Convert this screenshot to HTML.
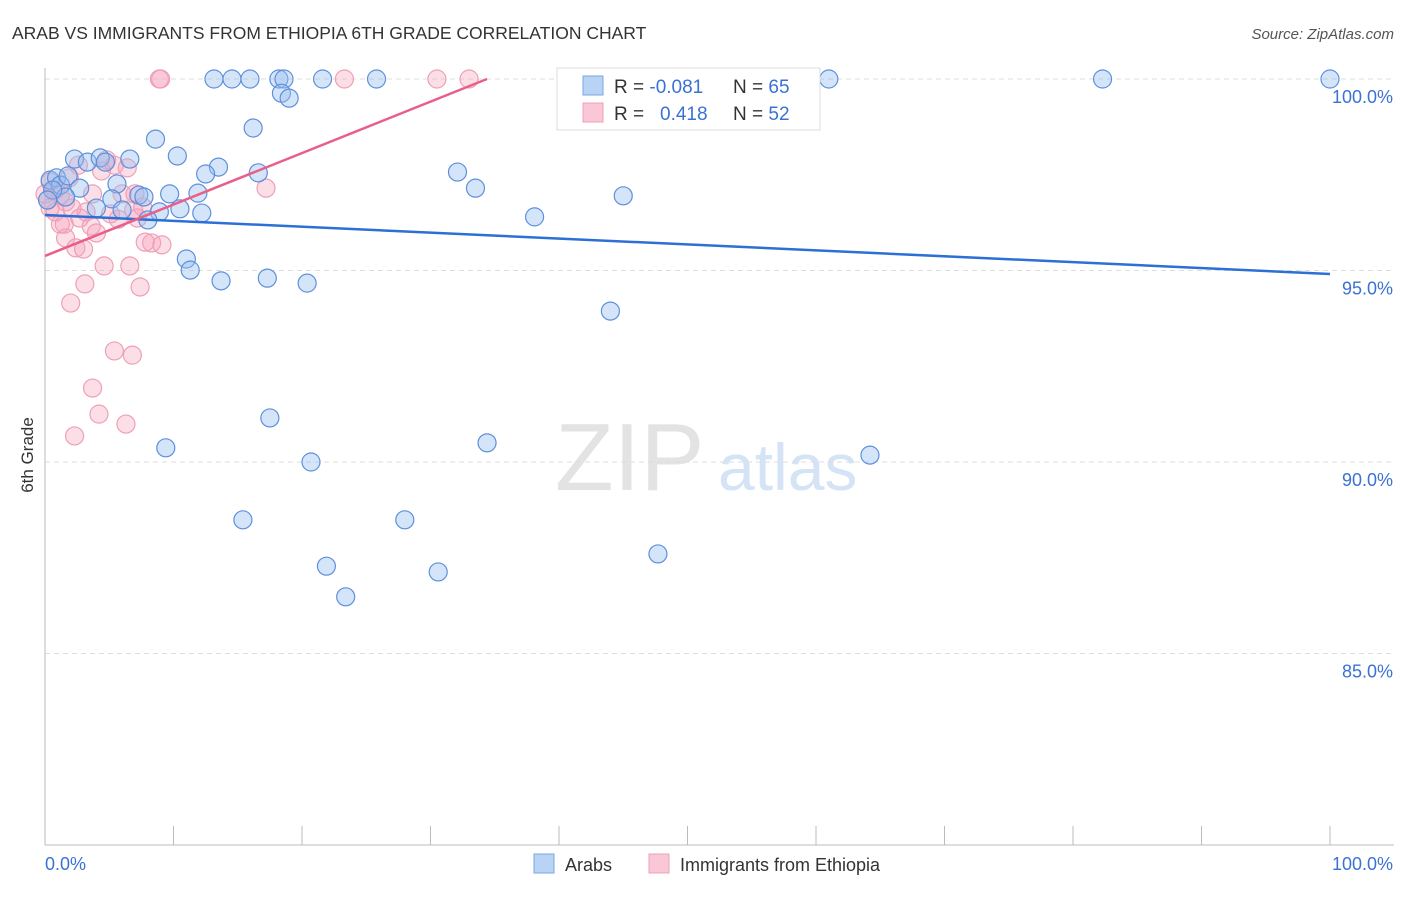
<!DOCTYPE html>
<html><head><meta charset="utf-8"><style>
body{margin:0;background:#fff;font-family:"Liberation Sans",sans-serif}
svg text{font-family:"Liberation Sans",sans-serif}
</style></head><body>
<svg id="chart" width="1406" height="892" viewBox="0 0 1406 892" xmlns="http://www.w3.org/2000/svg">
<text x="12" y="39" font-size="17.5" fill="#333">ARAB VS IMMIGRANTS FROM ETHIOPIA 6TH GRADE CORRELATION CHART</text>
<text x="1394" y="39" font-size="15" font-style="italic" fill="#555" text-anchor="end">Source: ZipAtlas.com</text>
<text transform="translate(33,455) rotate(-90)" font-size="17" fill="#333" text-anchor="middle">6th Grade</text>
<g>
<text x="555" y="490" font-size="96" font-family="Liberation Serif" fill="#e3e3e3">ZIP</text>
<text x="718" y="490" font-size="66" fill="#d4e3f5">atlas</text>
</g>
<g id="grid"></g>
<g id="axes"></g>
<g id="pts"></g>
<g id="trends"></g>
<g>
<rect x="557" y="68" width="263" height="62" fill="#fff" stroke="#ddd"/>
<rect x="583" y="76" width="20" height="19" fill="#b9d3f5" stroke="#7aa5e5"/>
<rect x="583" y="103" width="20" height="19" fill="#f9c7d6" stroke="#f0a0b8"/>
<text x="614" y="93" font-size="19" fill="#333">R = <tspan fill="#3a72d4">-0.081</tspan></text>
<text x="733" y="93" font-size="19" fill="#333">N = <tspan fill="#3a72d4">65</tspan></text>
<text x="614" y="120" font-size="19" fill="#333">R = <tspan fill="#3a72d4" x="660">0.418</tspan></text>
<text x="733" y="120" font-size="19" fill="#333">N = <tspan fill="#3a72d4">52</tspan></text>
</g>
<g>
<rect x="534" y="854" width="20" height="19" fill="#b9d3f5" stroke="#7aa5e5"/>
<text x="565" y="871" font-size="18" fill="#333">Arabs</text>
<rect x="649" y="854" width="20" height="19" fill="#f9c7d6" stroke="#f0a0b8"/>
<text x="680" y="871" font-size="18" fill="#333">Immigrants from Ethiopia</text>
</g>
</svg>
<script>
const yTicks=[100,95,90,85];
const yTickLabels=["100.0%","95.0%","90.0%","85.0%"];
const xTickCount=10;
const blueX=[13.15,14.55,15.95,18.2,18.6,21.6,25.8,47.1,61.0,82.3,100,18.4,19.0,16.2,8.6,10.3,2.3,3.3,4.3,4.7,6.6,13.5,12.5,16.6,32.1,33.5,45.0,0.4,0.9,1.2,1.8,2.7,5.6,5.2,7.3,7.7,9.7,11.9,1.6,4.0,6.0,8.9,10.5,12.2,8.0,38.1,11.0,11.3,13.7,17.3,20.4,44.0,17.5,9.4,34.4,20.7,64.2,15.4,28.0,21.9,30.6,23.4,47.7,0.6,0.2];
const blueY=[100,100,100,100,100,100,100,100,100,100,100,99.63,99.5,98.72,98.43,97.99,97.91,97.83,97.94,97.83,97.91,97.70,97.52,97.55,97.57,97.15,96.95,97.36,97.42,97.23,97.47,97.15,97.26,96.87,96.97,96.92,97.0,97.02,96.92,96.63,96.58,96.53,96.61,96.50,96.32,96.40,95.30,95.01,94.73,94.80,94.67,93.94,91.15,90.37,90.50,90.0,90.18,88.49,88.49,87.28,87.13,86.48,87.60,97.10,96.84];
const pinkX=[8.9,9.0,23.3,30.5,33.0,17.2,2.6,4.8,5.4,6.4,4.4,1.9,0.4,0.8,1.2,0.2,1.6,3.7,6.0,7.0,2.1,3.2,5.1,6.9,7.6,1.5,2.7,3.6,5.7,7.2,1.2,4.0,1.6,2.4,3.0,7.8,8.3,9.1,4.6,6.6,3.1,7.4,2.0,5.4,6.8,3.7,4.2,6.3,2.3,0.4,0.8,0];
const pinkY=[100,100,100,100,100,97.15,97.75,97.89,97.75,97.68,97.60,97.42,97.31,97.10,96.97,96.84,96.79,97.0,97.0,97.0,96.63,96.53,96.48,96.58,96.66,96.21,96.37,96.16,96.34,96.37,96.21,95.98,95.85,95.59,95.56,95.74,95.72,95.67,95.12,95.12,94.65,94.57,94.15,92.90,92.79,91.93,91.25,90.99,90.68,96.63,96.53,97.0];
const blueTrend=[0,96.45,100,94.91];
const pinkTrend=[0,95.38,34.4,100];
const NS="http://www.w3.org/2000/svg";
const X0=45,X1=1330,Y100=79,PXPER=38.3;
function sx(v){return X0+(X1-X0)*v/100;}
function sy(v){return Y100+(100-v)*PXPER;}
function mk(tag,attrs,parent){const e=document.createElementNS(NS,tag);for(const k in attrs)e.setAttribute(k,attrs[k]);document.getElementById(parent).appendChild(e);return e;}
yTicks.forEach((t,i)=>{
 const l=mk('line',{x1:X0,x2:1394,y1:sy(t),y2:sy(t),stroke:'#ddd','stroke-dasharray':'5,4'},'grid');
 
 
 const tx=mk('text',{x:1393,y:sy(t)+24,'font-size':18,fill:'#3a72d4','text-anchor':'end'},'grid');
 tx.textContent=yTickLabels[i];
 
 
});
const ya=mk('line',{x1:X0,x2:X0,y1:68,y2:845,stroke:'#bbb'},'axes');


const xa=mk('line',{x1:X0,x2:1394,y1:845,y2:845,stroke:'#bbb'},'axes');


for(let i=1;i<=xTickCount;i++){
 const x=sx(i*100/xTickCount);
 const t=mk('line',{x1:x,x2:x,y1:826,y2:845,stroke:'#bbb'},'axes');
 
 
}
const l0=mk('text',{x:45,y:870,'font-size':18,fill:'#3a72d4'},'axes');l0.textContent='0.0%';


const l1=mk('text',{x:1393,y:870,'font-size':18,fill:'#3a72d4','text-anchor':'end'},'axes');l1.textContent='100.0%';


pinkX.forEach((v,i)=>{
 const c=mk('circle',{cx:sx(v),cy:sy(pinkY[i]),r:9,fill:'rgba(245,160,185,0.35)',stroke:'#eea0b8','stroke-width':1.2},'pts');
 
 
});
blueX.forEach((v,i)=>{
 const c=mk('circle',{cx:sx(v),cy:sy(blueY[i]),r:9,fill:'rgba(150,190,240,0.4)',stroke:'#5d90dc','stroke-width':1.2},'pts');
 
 
});
const bt=mk('line',{x1:sx(blueTrend[0]),y1:sy(blueTrend[1]),x2:sx(blueTrend[2]),y2:sy(blueTrend[3]),stroke:'#2c6fd6','stroke-width':2.5},'trends');


const pt=mk('line',{x1:sx(pinkTrend[0]),y1:sy(pinkTrend[1]),x2:sx(pinkTrend[2]),y2:sy(pinkTrend[3]),stroke:'#e8608a','stroke-width':2.5},'trends');


</script>
</body></html>
